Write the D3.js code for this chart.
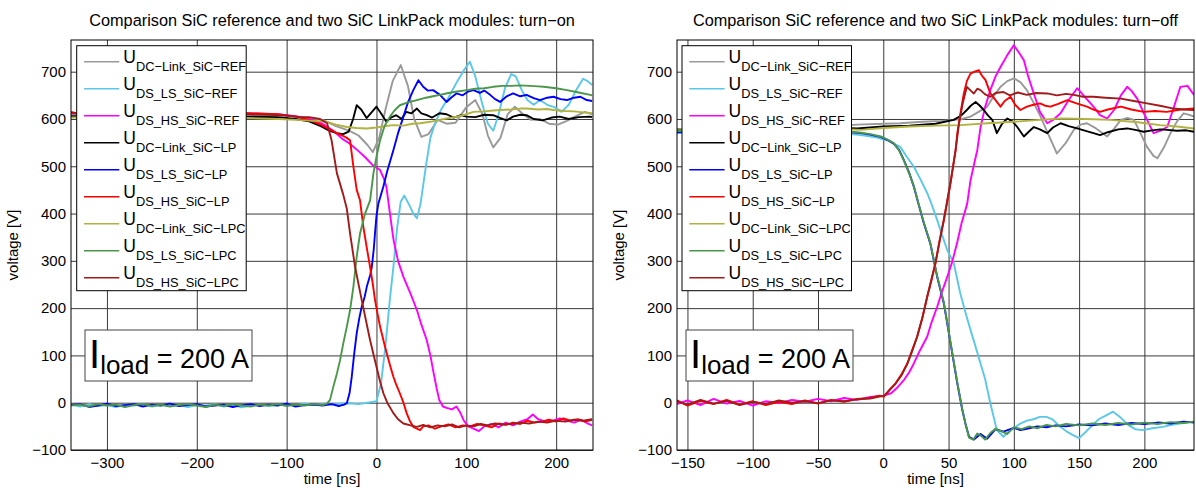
<!DOCTYPE html>
<html>
<head>
<meta charset="utf-8">
<title>SiC LinkPack turn-on / turn-off</title>
<script src="https://cdn.jsdelivr.net/npm/d3@7"></script>
<style>
  body { margin: 0; background: #fff; }
  svg { display: block; font-family: 'Liberation Sans', Arial, sans-serif; }
</style>
</head>
<body>
<svg width="1196" height="488"></svg>
<script>
// legend order = draw order
const seriesNames = ['DC\u2212Link_SiC\u2212REF', 'DS_LS_SiC\u2212REF', 'DS_HS_SiC\u2212REF',
  'DC\u2212Link_SiC\u2212LP', 'DS_LS_SiC\u2212LP', 'DS_HS_SiC\u2212LP',
  'DC\u2212Link_SiC\u2212LPC', 'DS_LS_SiC\u2212LPC', 'DS_HS_SiC\u2212LPC']
const seriesColors = ['#999999', '#5ac8e6', '#ff00ff', '#000000', '#0000ff', '#ff0000', '#b2b23f', '#4a974a', '#a31a1a']

const yTicks = [-100, 0, 100, 200, 300, 400, 500, 600, 700]
const onTicks = [-300, -200, -100, 0, 100, 200]
const offTicks = [-150, -100, -50, 0, 50, 100, 150, 200]

// ---- turn-on, [time ns, voltage V] ----
const onDcRef = [[-340,610],[-300,611],[-250,609],[-200,611],[-150,610],[-100,607],[-80,603],[-60,598],[-45,585],[-30,575],[-20,565],[-10,545],[-4,530],[3,560],[10,620],[18,680],[27,714],[35,670],[42,600],[50,562],[58,568],[68,598],[78,590],[88,592],[100,625],[110,640],[118,610],[124,565],[130,540],[138,560],[146,610],[154,626],[162,612],[172,598],[182,600],[192,590],[202,588],[212,596],[222,606],[232,615],[240,610]]
const onLsRef = [[-340,-4],[-330,-8],[-320,-3],[-310,-7],[-300,-5],[-290,-9],[-280,-4],[-270,-6],[-260,-3],[-250,-8],[-240,-5],[-230,-7],[-220,-4],[-210,-9],[-200,-5],[-190,-6],[-180,-3],[-170,-8],[-160,-5],[-150,-10],[-140,-6],[-130,-4],[-120,-7],[-110,-5],[-100,-3],[-90,-6],[-80,-2],[-70,-5],[-60,-3],[-50,-4],[-40,-2],[-30,-1],[-20,-3],[-10,0],[0,3],[5,40],[10,120],[15,220],[19,290],[23,370],[27,425],[31,438],[36,420],[41,400],[45,390],[49,420],[55,500],[60,560],[65,590],[72,620],[80,645],[90,680],[98,705],[104,721],[110,690],[118,630],[124,590],[130,575],[136,610],[143,665],[150,695],[155,690],[162,660],[168,640],[175,630],[182,640],[190,630],[198,625],[206,615],[214,630],[222,660],[230,685],[235,680],[240,672]]
const onHsRef = [[-340,612],[-300,613],[-250,610],[-200,611],[-150,612],[-110,610],[-90,606],[-75,600],[-60,590],[-48,575],[-38,558],[-30,548],[-20,532],[-12,518],[-4,502],[4,492],[8,475],[11,457],[15,400],[19,344],[24,300],[30,266],[38,230],[45,196],[50,165],[56,132],[60,100],[63,69],[67,30],[70,5],[74,-8],[78,-11],[84,-14],[89,-8],[93,-20],[97,-37],[102,-50],[108,-55],[114,-60],[120,-50],[128,-45],[136,-52],[144,-42],[152,-48],[160,-40],[168,-35],[174,-25],[180,-35],[188,-40],[196,-38],[204,-33],[212,-38],[220,-42],[228,-36],[236,-45],[240,-48]]
const onDcLp = [[-340,606],[-300,607],[-250,606],[-200,607],[-150,605],[-110,604],[-90,600],[-75,595],[-62,585],[-52,575],[-44,570],[-37,568],[-31,573],[-26,600],[-22,629],[-17,620],[-11,602],[-5,615],[0,626],[5,612],[11,594],[16,603],[22,608],[28,600],[33,615],[39,612],[45,622],[50,612],[56,608],[62,603],[70,612],[78,610],[86,603],[94,608],[100,605],[110,604],[120,609],[130,608],[138,602],[145,597],[152,605],[160,609],[167,608],[175,600],[185,597],[195,603],[204,605],[214,600],[225,604],[238,605],[240,604]]
const onLsLp = [[-340,-5],[-330,-3],[-320,-9],[-310,-6],[-300,-2],[-290,-7],[-280,-5],[-270,-3],[-260,-8],[-250,-4],[-240,-6],[-230,-2],[-220,-7],[-210,-5],[-200,-3],[-190,-8],[-180,-6],[-170,-4],[-160,-9],[-150,-5],[-140,-3],[-130,-7],[-120,-4],[-110,-6],[-100,-2],[-90,-8],[-80,-5],[-70,-4],[-60,-6],[-50,-3],[-42,-7],[-36,-4],[-33,-1],[-30,20],[-27.5,55],[-25,100],[-22,147],[-19,180],[-16.4,203],[-13,225],[-10.8,245],[-7,270],[-5.2,287],[-3,325],[-1.6,359],[0,395],[2,420],[5,440],[7.7,457],[12,490],[18.8,534],[24,570],[30,605],[35,635],[41,661],[46.7,682],[52,668],[57,660],[63,661],[70.7,651],[78,636],[83,645],[89,654],[96,650],[102,658],[108,661],[115,655],[120,660],[126.5,651],[132,642],[137.6,636],[145,648],[152,654],[160,648],[167,651],[175,644],[182,640],[190,645],[197,647],[205,642],[212,640],[220,645],[227,647],[234,640],[240,638]]
const onHsLp = [[-340,613],[-300,612],[-250,614],[-200,611],[-150,613],[-110,610],[-90,605],[-75,598],[-62,588],[-52,578],[-44,570],[-38,565],[-33,560],[-29.4,555],[-25.7,499],[-22,450],[-18.3,428],[-14.6,372],[-11,330],[-7.1,287],[-4,250],[-1.6,217],[1,190],[4,161],[8,130],[11.5,104],[15,80],[18.8,55],[22,38],[26,20],[30,0],[33.6,-22],[37,-38],[41,-51],[45,-55],[48.5,-58],[52,-50],[58,-48],[65,-55],[72,-50],[80,-46],[88,-52],[96,-48],[104,-50],[112,-45],[120,-48],[128,-52],[136,-44],[144,-47],[152,-42],[160,-45],[168,-38],[176,-42],[184,-40],[192,-36],[200,-40],[208,-33],[216,-38],[224,-35],[232,-40],[240,-36]]
const onDcLpc = [[-340,603],[-300,604],[-250,602],[-200,603],[-150,602],[-110,600],[-90,598],[-70,596],[-55,594],[-45,588],[-33,583],[-22,581],[-11,580],[0,582],[10,585],[18.8,587],[30,586],[40,590],[48.5,591],[60,594],[70,598],[78,601],[90,605],[100,610],[108,615],[120,616],[130,618],[137.6,619],[150,620],[160,622],[167,622],[180,620],[190,621],[197,619],[210,617],[220,616],[230,614],[240,612]]
const onLsLpc = [[-340,-6],[-330,-4],[-320,-8],[-310,-3],[-300,-6],[-290,-4],[-280,-9],[-270,-5],[-260,-3],[-250,-7],[-240,-4],[-230,-8],[-220,-5],[-210,-3],[-200,-6],[-190,-9],[-180,-4],[-170,-7],[-160,-3],[-150,-6],[-140,-8],[-130,-4],[-120,-6],[-110,-3],[-100,-7],[-90,-4],[-80,-6],[-70,-3],[-60,-5],[-55,-2],[-51.7,6],[-48,34],[-44,62],[-40.5,90],[-37,125],[-33,161],[-29.4,196],[-25.7,245],[-22,309],[-18.3,358],[-12.7,400],[-7.1,428],[-3.4,485],[0,520],[4,555],[9,585],[15,605],[20,618],[26,629],[35,635],[45,640],[55,645],[63,648],[70.7,651],[80,655],[90,658],[100.6,661],[110,664],[120,665],[130,668],[140,670],[150,670],[160,671],[170,670],[180,669],[186,668],[200,665],[212,661],[225,656],[238,651],[240,650]]
const onHsLpc = [[-340,615],[-330,610],[-320,614],[-300,611],[-280,613],[-250,612],[-220,614],[-200,611],[-170,612],[-150,610],[-120,609],[-100,607],[-85,604],[-75,604],[-62.8,600],[-55,591],[-50,555],[-44,485],[-37,440],[-33,410],[-29.4,358],[-23.8,287],[-16.4,217],[-7.1,132],[0,76],[4,45],[7.7,20],[12,0],[18.8,-22],[24,-35],[30,-44],[38,-48],[45,-51],[52,-47],[60,-52],[68,-48],[76,-50],[84,-46],[92,-52],[100,-48],[108,-50],[116,-45],[124,-48],[132,-44],[140,-46],[150,-45],[160,-42],[170,-44],[180,-40],[190,-42],[200,-38],[210,-40],[220,-36],[230,-38],[240,-35]]

// ---- turn-off ----
const offDcRef = [[-158,573],[-140,577],[-120,576],[-100,578],[-80,580],[-60,583],[-40,585],[-20,588],[0,590],[13,591],[30,594],[45,596],[54,598],[60,600],[66.8,605],[73,615],[79.6,626],[85,650],[89.8,668],[95,680],[100,686],[105,678],[110,661],[115,635],[120.5,605],[126,570],[133,527],[140,550],[146,577],[151,588],[156,591],[163,580],[171.5,563],[177,580],[182,598],[187,602],[192,598],[197,570],[202,541],[207,522],[210,517],[215,540],[220,570],[225,595],[230,612],[235,608],[238,605]]
const offLsRef = [[-158,570],[-140,572],[-120,571],[-100,573],[-80,574],[-60,573],[-40,571],[-25,568],[-17,566],[-7,562],[3,555],[13,541],[18,520],[23.4,499],[28,475],[33.7,443],[37,420],[41.3,386],[45,355],[49,323],[54,295],[59,231],[63,190],[66.8,154],[70,125],[74.5,83],[78,50],[82,-1],[87,-58],[92,-72],[97.5,-58],[102,-50],[105,-44],[110,-38],[115,-35],[120,-30],[125,-30],[130,-36],[135,-50],[140,-60],[145,-68],[150,-75],[155,-62],[160,-48],[165,-35],[170,-28],[176,-19],[182,-32],[188,-48],[193,-56],[199,-58],[206,-54],[214,-51],[222,-46],[230,-43],[238,-40]]
const offHsRef = [[-158,-3],[-150,5],[-140,-5],[-130,8],[-120,-2],[-110,4],[-100,-6],[-90,3],[-80,-1],[-70,6],[-60,2],[-50,8],[-40,3],[-30,10],[-20,6],[-10,12],[0,15],[6,20],[10,30],[15.8,48],[20,65],[23.4,83],[28,110],[33.7,140],[37,170],[41.3,203],[45,235],[49,266],[53,300],[56.7,340],[60,380],[64.3,421],[66.8,470],[70,510],[72,534],[74.5,583],[78,625],[82,661],[86,690],[89.8,710],[95,735],[100,756],[104,740],[107.7,724],[111,690],[115.3,654],[120,615],[125.6,591],[130,598],[135.8,612],[142,640],[148.5,665],[154,648],[161,626],[166,608],[171.5,601],[177,620],[182,650],[186.8,668],[190,660],[194.5,643],[200,610],[207,570],[212,575],[217.5,583],[222,620],[227.6,668],[233,670],[238,651]]
const offDcLp = [[-158,578],[-140,576],[-120,579],[-100,577],[-80,580],[-60,579],[-40,582],[-20,580],[0,584],[20,586],[40,590],[54,598],[60,608],[64,619],[67,628],[70.7,636],[74,628],[77,619],[80,608],[83.5,598],[87,570],[91,590],[95,601],[99,595],[102.6,583],[107.7,563],[111,572],[115.3,583],[120,578],[125.6,570],[130,582],[135.8,591],[142,585],[148.5,580],[155,575],[161,570],[166,566],[172,572],[180,578],[186.8,580],[193,577],[199.5,573],[206,576],[212,578],[217.5,577],[225,575],[232,576],[238,573]]
const offLsLp = [[-158,572],[-140,574],[-120,573],[-100,575],[-80,573],[-60,576],[-40,574],[-25,572],[-17,570],[-10,567],[-2,562],[3,556],[8,548],[12,535],[15.8,513],[20,485],[23.4,457],[27,420],[31,380],[36,337],[41.3,266],[46.4,210],[51.5,126],[56.7,41],[60.5,-15],[63,-45],[65.7,-72],[69.4,-78],[74.5,-66],[79.6,-76],[86,-56],[92,-61],[100,-53],[105,-58],[110,-55],[118,-50],[125,-52],[132,-48],[140,-50],[150,-46],[160,-48],[170,-44],[180,-47],[190,-43],[200,-45],[210,-42],[220,-44],[230,-40],[238,-42]]
const offHsLp = [[-158,5],[-150,-6],[-140,4],[-130,-3],[-120,6],[-110,-4],[-100,3],[-90,-5],[-80,2],[-70,-3],[-60,5],[-50,-2],[-40,6],[-30,2],[-20,8],[-10,10],[-3,15],[0.5,13],[5,28],[9.4,41],[14,60],[18.4,83],[22,110],[26,140],[30,180],[33.7,224],[37,260],[40,295],[43,340],[46.4,385],[49,425],[51.5,464],[55.4,534],[56.7,570],[59,610],[61.7,654],[64,680],[66.8,696],[70,700],[73.2,703],[75.5,692],[78.3,682],[82,654],[86,640],[89.8,626],[93,638],[97.5,647],[101,630],[105,619],[110,626],[115,630],[120,633],[124,628],[128,626],[134,632],[141,640],[148,633],[156,626],[161,620],[166,615],[172,620],[182,626],[190,620],[199.5,615],[208,617],[217,615],[228,620],[238,622]]
const offDcLpc = [[-158,576],[-140,575],[-120,578],[-100,576],[-80,579],[-60,578],[-40,580],[-17,577],[0,581],[20,584],[40,586],[59,587],[80,591],[100,594],[120,598],[136,601],[155,600],[174,598],[195,593],[212,587],[225,584],[238,580]]
const offLsLpc = [[-158,575],[-140,572],[-120,575],[-100,573],[-80,575],[-60,574],[-40,575],[-25,573],[-17,571],[-10,568],[-2,563],[3,557],[8,549],[12,534],[15.8,512],[20,484],[23.4,458],[27,421],[31,382],[36,338],[41.3,268],[46.4,212],[51.5,128],[56.7,43],[60.5,-13],[63,-45],[65.7,-74],[69,-78],[72,-65],[75,-70],[78,-78],[82,-64],[86,-55],[90,-60],[95,-66],[100,-52],[106,-56],[112,-50],[118,-54],[125,-47],[132,-50],[140,-45],[150,-48],[160,-44],[170,-47],[180,-43],[190,-46],[200,-42],[210,-45],[220,-41],[230,-43],[238,-40]]
const offHsLpc = [[-158,3],[-150,-4],[-140,6],[-130,-2],[-120,4],[-110,-5],[-100,2],[-90,-3],[-80,5],[-70,0],[-60,3],[-50,-1],[-40,5],[-30,3],[-20,7],[-10,9],[-3,13],[0.5,14],[5,27],[9.4,40],[14,58],[18.4,82],[22,108],[26,140],[30,180],[33.7,225],[37,262],[40,296],[43,340],[46.4,388],[49,428],[51.5,466],[55.4,534],[58,590],[61,635],[64,668],[67,660],[69.4,654],[72,664],[74.5,661],[78,652],[82,647],[86,655],[92,657],[97,650],[103,656],[110,651],[117,655],[125.6,654],[133,650],[140,653],[146,651],[153,647],[161,647],[170,645],[182,643],[192,638],[202,633],[212,628],[222.5,622],[230,620],[238,619]]

const TOP = 40, BOTTOM = 450
const GRID = '#3a3a3a'
const svg = d3.select('svg')
const fmt = d => d < 0 ? '\u2212' + Math.abs(d) : String(d)

const panels = [
  { id: 'on', left: 71, right: 593, xDomain: [-340, 241], xTicks: onTicks,
    title: 'Comparison SiC reference and two SiC LinkPack modules: turn\u2212on',
    series: [onDcRef, onLsRef, onHsRef, onDcLp, onLsLp, onHsLp, onDcLpc, onLsLpc, onHsLpc],
    legend: { x: 76.7, y: 45.7 }, note: { x: 85, y: 330 } },
  { id: 'off', left: 677, right: 1194, xDomain: [-158, 238], xTicks: offTicks,
    title: 'Comparison SiC reference and two SiC LinkPack modules: turn\u2212off',
    series: [offDcRef, offLsRef, offHsRef, offDcLp, offLsLp, offHsLp, offDcLpc, offLsLpc, offHsLpc],
    legend: { x: 682, y: 45.7 }, note: { x: 686, y: 330 } }
]

panels.forEach(drawPanel)

function drawPanel (p) {
  const x = d3.scaleLinear().domain(p.xDomain).range([p.left, p.right])
  const y = d3.scaleLinear().domain([-100, 767]).range([BOTTOM, TOP])
  const g = svg.append('g').attr('class', 'panel-' + p.id)
  const w = p.right - p.left, h = BOTTOM - TOP

  g.append('clipPath').attr('id', 'clip-' + p.id)
    .append('rect').attr('x', p.left).attr('y', TOP).attr('width', w).attr('height', h)

  // grid
  g.append('g').attr('transform', `translate(0,${BOTTOM})`)
    .call(d3.axisBottom(x).tickValues(p.xTicks).tickSize(-h).tickFormat(''))
    .call(s => s.select('.domain').remove())
    .selectAll('line').attr('stroke', GRID)
  g.append('g').attr('transform', `translate(${p.left},0)`)
    .call(d3.axisLeft(y).tickValues(yTicks).tickSize(-w).tickFormat(''))
    .call(s => s.select('.domain').remove())
    .selectAll('line').attr('stroke', GRID)

  // traces
  const line = d3.line().x(d => x(d[0])).y(d => y(d[1]))
  g.append('g').attr('clip-path', `url(#clip-${p.id})`)
    .selectAll('path').data(p.series).join('path')
    .attr('d', line)
    .attr('fill', 'none')
    .attr('stroke', (d, i) => seriesColors[i])
    .attr('stroke-width', 1.9)
    .attr('stroke-linejoin', 'round')

  // box
  g.append('rect').attr('x', p.left).attr('y', TOP).attr('width', w).attr('height', h)
    .attr('fill', 'none').attr('stroke', '#000').attr('stroke-width', 1)

  // tick labels
  g.append('g').attr('transform', `translate(0,${BOTTOM})`)
    .call(d3.axisBottom(x).tickValues(p.xTicks).tickSize(0).tickPadding(7).tickFormat(fmt))
    .call(s => s.select('.domain').remove())
    .selectAll('text').attr('font-size', 15).attr('font-family', null).attr('fill', '#000')
  g.append('g').attr('transform', `translate(${p.left},0)`)
    .call(d3.axisLeft(y).tickValues(yTicks).tickSize(0).tickPadding(5).tickFormat(fmt))
    .call(s => s.select('.domain').remove())
    .selectAll('text').attr('font-size', 15).attr('font-family', null).attr('fill', '#000')

  // titles
  const cx = (p.left + p.right) / 2
  g.append('text').attr('x', cx).attr('y', 26).attr('text-anchor', 'middle')
    .attr('font-size', 16.3).text(p.title)
  g.append('text').attr('x', cx).attr('y', 484).attr('text-anchor', 'middle')
    .attr('font-size', 15).text('time [ns]')
  g.append('text').attr('transform', `translate(${p.left - 53},${(TOP + BOTTOM) / 2}) rotate(-90)`)
    .attr('text-anchor', 'middle').attr('font-size', 15).text('voltage [V]')

  // legend
  const lg = g.append('g').attr('transform', `translate(${p.legend.x},${p.legend.y})`)
  lg.append('rect').attr('width', 169.5).attr('height', 245)
    .attr('fill', '#fff').attr('stroke', '#000').attr('stroke-width', 1)
  const item = lg.selectAll('.item').data(seriesNames).join('g')
    .attr('class', 'item')
    .attr('transform', (d, i) => `translate(0,${16 + i * 27})`)
  item.append('line').attr('x1', 7.3).attr('x2', 42.6)
    .attr('stroke', (d, i) => seriesColors[i]).attr('stroke-width', 1.6)
  const t = item.append('text').attr('x', 46.6).attr('y', 1.6)
  t.append('tspan').attr('font-size', 17.5).text('U')
  t.append('tspan').attr('font-size', 12.8).attr('dy', 7.5).text(d => d)

  // load current note
  const ng = g.append('g').attr('transform', `translate(${p.note.x},${p.note.y})`)
  ng.append('rect').attr('width', 167).attr('height', 51)
    .attr('fill', '#fff').attr('stroke', '#444').attr('stroke-width', 1)
  const nt = ng.append('text').attr('x', 4).attr('y', 38)
  nt.append('tspan').attr('font-size', 40).text('I')
  nt.append('tspan').attr('font-size', 26).attr('dy', 6).text('load')
  nt.append('tspan').attr('font-size', 27).attr('dy', -6).text(' = 200 A')
}
</script>
</body>
</html>
